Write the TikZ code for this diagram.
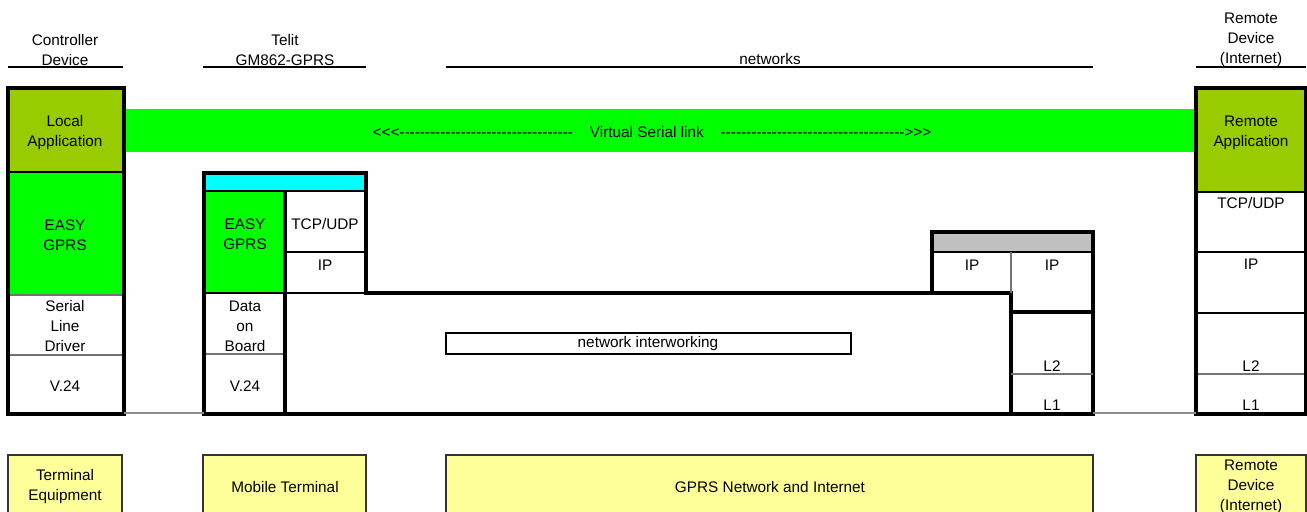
\documentclass[tikz,border=0pt]{standalone}
\usepackage{fontspec}
\setmainfont{Liberation Sans}[Ligatures=TeXOff]
\definecolor{olivegreen}{HTML}{99CC00}
\definecolor{linkgreen}{HTML}{00FF00}
\definecolor{stackcyan}{HTML}{00FFFF}
\definecolor{routergray}{HTML}{C0C0C0}
\definecolor{devyellow}{HTML}{FFFF99}
\tikzset{
  lbl/.style={inner sep=0pt,align=center,font=\fontsize{11.5}{15}\selectfont},
  hdr/.style={line width=2pt},
  frame/.style={line width=2.3pt},
  cellline/.style={line width=1.5pt},
  seam/.style={line width=0.8pt,black!55},
  wire/.style={line width=1.2pt,black!45},
  devbox/.style={draw=black!80,line width=1.3pt,fill=devyellow}
}

\begin{document}
\begin{tikzpicture}[x=0.75pt,y=-0.75pt]
  \clip (0,0) rectangle (1307,511);
  \fill[white] (0,0) rectangle (1307,511);
  % headers
  \begin{scope}
   \draw[hdr] (8,67) -- (123,67);
   \draw[hdr] (203,67) -- (366,67);
   \draw[hdr] (446,67) -- (1093,67);
   \draw[hdr] (1196,67) -- (1306,67);
   \node[lbl] (hctrl) at (65,50) {Controller\\Device};
   \node[lbl] (htelit) at (285,50) {Telit\\GM862-GPRS};
   \node[lbl] (hnet) at (770,59) {networks};
   \node[lbl] (hremote) at (1251,40) {Remote\\Device\\(Internet)};
  \end{scope}
  % virtual serial link
  \fill[linkgreen] (124,109) rectangle (1196,152);
  \node[lbl] (vlink) at (652,132) {<<<----------------------------------\hspace{1.1em}Virtual Serial link\hspace{1.1em}------------------------------------>>>};
  % controller device
  \begin{scope}
   \fill[olivegreen] (8,88) rectangle (124,172);
   \fill[linkgreen] (8,172) rectangle (124,295);
   \draw[cellline] (8,172) -- (124,172);
   \draw[seam] (8,295) -- (124,295);
   \draw[seam] (8,355) -- (124,355);
   \draw[frame] (8,88) rectangle (124,414);
   \node[lbl] (capp) at (65,133) {Local\\Application};
   \node[lbl] (ceasy) at (65,235) {EASY\\GPRS};
   \node[lbl] (cdrv) at (65,326) {Serial\\Line\\Driver};
   \node[lbl] (cv24) at (65,386) {V.24};
   \coordinate (cwire) at (124,413);
  \end{scope}
  % telit module and networks
  \begin{scope}
   \fill[stackcyan] (204,173) rectangle (366,191);
   \fill[linkgreen] (204,191) rectangle (285,293);
   \draw[cellline] (204,191) -- (366,191);
   \draw[cellline] (285,252) -- (366,252);
   \draw[cellline] (204,293) -- (366,293);
   \draw[seam] (204,354) -- (285,354);
   \draw[frame] (204,173) -- (366,173) -- (366,293) -- (1011,293) -- (1011,414) -- (204,414) -- cycle;
   \draw[frame] (285,191) -- (285,414);
   \node[lbl] (teasy) at (245,234) {EASY\\GPRS};
   \node[lbl] (ttcp) at (325,224) {TCP/UDP};
   \node[lbl] (tip) at (325,265) {IP};
   \node[lbl] (tdata) at (245,326) {Data\\on\\Board};
   \node[lbl] (tv24) at (245,386) {V.24};
   \coordinate (twire) at (204,413);
   \draw[frame,line width=2pt] (446,333) rectangle (851,354);
   \node[lbl] (inter) at (648,344) {network interworking};
  \end{scope}
  % router
  \begin{scope}
   \fill[routergray] (932,232) rectangle (1093,252);
   \draw[cellline] (932,252) -- (1093,252);
   \draw[seam] (1011,252) -- (1011,293);
   \draw[frame] (932,293) -- (932,232) -- (1093,232) -- (1093,414) -- (1011,414);
   \draw[frame] (1011,312) -- (1093,312);
   \draw[seam] (1011,374) -- (1093,374);
   \node[lbl] (rip1) at (972,265) {IP};
   \node[lbl] (rip2) at (1052,265) {IP};
   \node[lbl] (rl2) at (1052,366) {L2};
   \node[lbl] (rl1) at (1052,405) {L1};
   \coordinate (rwire) at (1093,413);
  \end{scope}
  % remote device
  \begin{scope}
   \fill[olivegreen] (1196,88) rectangle (1306,192);
   \draw[cellline] (1196,192) -- (1306,192);
   \draw[cellline] (1196,252) -- (1306,252);
   \draw[cellline] (1196,313) -- (1306,313);
   \draw[seam] (1196,374) -- (1306,374);
   \draw[frame] (1196,88) rectangle (1306,414);
   \node[lbl] (mapp) at (1251,133) {Remote\\Application};
   \node[lbl] (mtcp) at (1251,203) {TCP/UDP};
   \node[lbl] (mip) at (1251,264) {IP};
   \node[lbl] (ml2) at (1251,366) {L2};
   \node[lbl] (ml1) at (1251,405) {L1};
   \coordinate (mwire) at (1196,413);
  \end{scope}
  % physical links
  \draw[wire] (cwire) -- (twire);
  \draw[wire] (rwire) -- (mwire);
  % equipment
  \draw[devbox] (8,455) rectangle (122,540);
  \draw[devbox] (203,455) rectangle (366,540);
  \draw[devbox] (446,455) rectangle (1093,540);
  \draw[devbox] (1196,455) rectangle (1306,540);
  \node[lbl] (eterm) at (65,487) {Terminal\\Equipment};
  \node[lbl] (emob) at (285,487) {Mobile Terminal};
  \node[lbl] (enet) at (770,487) {GPRS Network and Internet};
  \node[lbl] (erem) at (1251,487) {Remote\\Device\\(Internet)};
\end{tikzpicture}
\end{document}
